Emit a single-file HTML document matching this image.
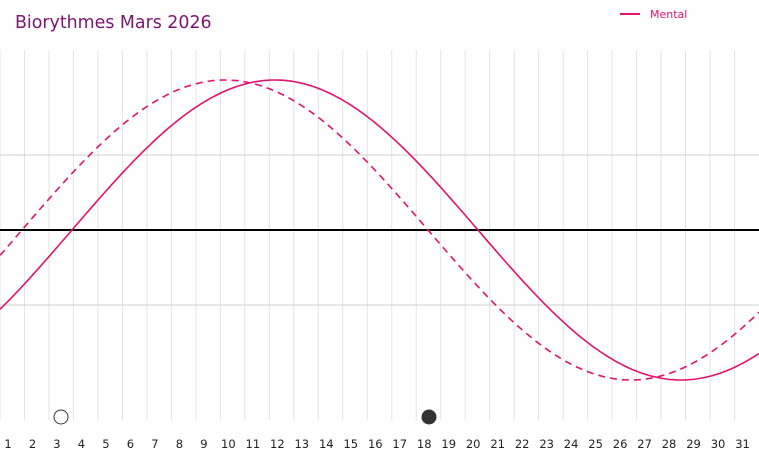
<!DOCTYPE html>
<html><head><meta charset="utf-8"><style>
html,body{margin:0;padding:0;background:#fff;width:759px;height:460px;overflow:hidden}
svg{display:block}
</style></head><body>
<svg id="s" width="759" height="460" xmlns="http://www.w3.org/2000/svg" font-family="Verdana, 'DejaVu Sans', sans-serif">
<text x="15" y="28" font-size="17.4" fill="#7a1670">Biorythmes Mars 2026</text>
<line x1="620" y1="14" x2="640" y2="14" stroke="#e0136f" stroke-width="2"/>
<text x="650" y="18" font-size="11" fill="#e0136f">Mental</text>
<g id="g"></g>
</svg>
<script>
var g=document.getElementById('g'),h='';
var sp=759/31;
for(var i=0;i<31;i++){var x=i*sp;h+='<line x1="'+x+'" y1="50" x2="'+x+'" y2="420" stroke="#e3e3e3" stroke-width="1"/>';
h+='<text x="'+(x+8)+'" y="448" font-size="11.5" text-anchor="middle" fill="#222">'+(i+1)+'</text>';}
h+='<line x1="0" y1="155" x2="759" y2="155" stroke="#cfcfcf"/><line x1="0" y1="305" x2="759" y2="305" stroke="#cfcfcf"/>';
h+='<line x1="0" y1="230" x2="759" y2="230" stroke="#000" stroke-width="2"/>';
function p(o){var d='';for(var x=0;x<=759;x+=3){var y=230-150*Math.sin(2*Math.PI*(x-o)/812);d+=(x?'L':'M')+x+' '+y.toFixed(1);}return d;}
h+='<path d="'+p(22)+'" fill="none" stroke="#e0136f" stroke-width="1.6" stroke-dasharray="7,5"/>';
h+='<path d="'+p(72)+'" fill="none" stroke="#e0136f" stroke-width="1.6"/>';
h+='<circle cx="61" cy="417" r="7" fill="#fff" stroke="#333" stroke-width="1"/><circle cx="429" cy="417" r="7.5" fill="#333"/>';
g.innerHTML=h;
</script>
</body></html>
